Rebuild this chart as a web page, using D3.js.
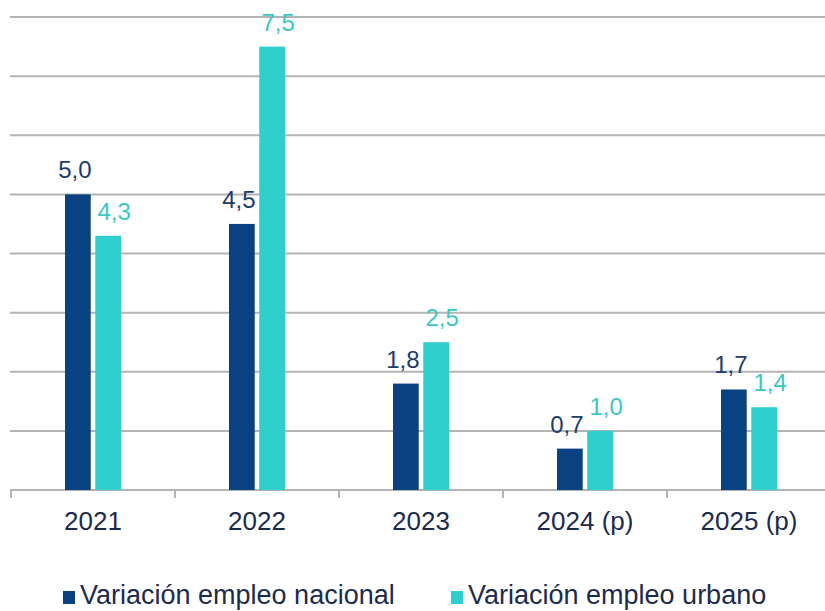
<!DOCTYPE html>
<html>
<head>
<meta charset="utf-8">
<script src="https://cdn.jsdelivr.net/npm/d3@7"></script>
<style>
  body { margin: 0; background: #fff; }
  svg { display: block; font-family: "Liberation Sans", Arial, sans-serif; }
</style>
</head>
<body>
<svg id="chart" width="825" height="611"></svg>
<script>
const categories = ['2021', '2022', '2023', '2024 (p)', '2025 (p)'];
const nacional = [5.0, 4.5, 1.8, 0.7, 1.7];
const urbano = [4.3, 7.5, 2.5, 1.0, 1.4];
const seriesNames = ['Variación empleo nacional', 'Variación empleo urbano'];
const yTicks = [0, 1, 2, 3, 4, 5, 6, 7, 8];

const width = 825,
  height = 611,
  navy = '#0a4281',
  teal = '#2ecfcc',
  navyText = '#1e3c6a',
  tealText = '#3ac8c5',
  gridColor = '#b4b4b4';

const svg = d3.select('#chart');

const x = d3.scaleBand().domain(categories).range([11, 11 + 164 * 5]);
const y = d3.scaleLinear().domain([0, 8]).range([490, 17]);
const inner = d3.scaleBand().domain([0, 1]).range([-28, 28]).paddingInner(0.15);

// gridlines
svg.append('g')
  .selectAll('line')
  .data(yTicks)
  .join('line')
  .attr('x1', 10)
  .attr('x2', width)
  .attr('y1', d => y(d))
  .attr('y2', d => y(d))
  .attr('stroke', gridColor)
  .attr('stroke-width', 2);

// category tick marks
const tickPos = categories.map(c => x(c)).concat([x.range()[1]]);
svg.append('g')
  .selectAll('line')
  .data(tickPos)
  .join('line')
  .attr('x1', d => d)
  .attr('x2', d => d)
  .attr('y1', y(0))
  .attr('y2', y(0) + 8)
  .attr('stroke', gridColor)
  .attr('stroke-width', 2);

const rows = categories.map((c, i) => ({ cat: c, vals: [nacional[i], urbano[i]] }));
const fills = [navy, teal];
const textFills = [navyText, tealText];
const labelDx = [-3, 6];

const groups = svg.append('g')
  .selectAll('g')
  .data(rows)
  .join('g')
  .attr('transform', d => 'translate(' + (x(d.cat) + x.bandwidth() / 2) + ',0)');

groups.selectAll('rect')
  .data(d => d.vals.map((v, k) => ({ v, k })))
  .join('rect')
  .attr('x', d => inner(d.k))
  .attr('width', inner.bandwidth())
  .attr('y', d => y(d.v))
  .attr('height', d => y(0) - y(d.v))
  .attr('fill', d => fills[d.k]);

groups.selectAll('text')
  .data(d => d.vals.map((v, k) => ({ v, k })))
  .join('text')
  .attr('x', d => inner(d.k) + inner.bandwidth() / 2 + labelDx[d.k])
  .attr('y', d => y(d.v) - 16)
  .attr('text-anchor', 'middle')
  .attr('font-size', 24)
  .attr('fill', d => textFills[d.k])
  .text(d => d.v.toFixed(1).replace('.', ','));

// category labels
svg.append('g')
  .selectAll('text')
  .data(categories)
  .join('text')
  .attr('x', d => x(d) + x.bandwidth() / 2)
  .attr('y', 530)
  .attr('text-anchor', 'middle')
  .attr('font-size', 26)
  .attr('fill', '#1c2b4c')
  .text(d => d);

// legend
const legendX = [63, 451];
const legend = svg.append('g')
  .selectAll('g')
  .data(seriesNames)
  .join('g')
  .attr('transform', (d, i) => 'translate(' + legendX[i] + ',0)');

legend.append('rect')
  .attr('x', 0)
  .attr('y', 591)
  .attr('width', 12)
  .attr('height', 13)
  .attr('fill', (d, i) => fills[i]);

legend.append('text')
  .attr('x', 17)
  .attr('y', 604)
  .attr('font-size', 27)
  .attr('fill', '#1c2b4c')
  .text(d => d);
</script>
</body>
</html>
